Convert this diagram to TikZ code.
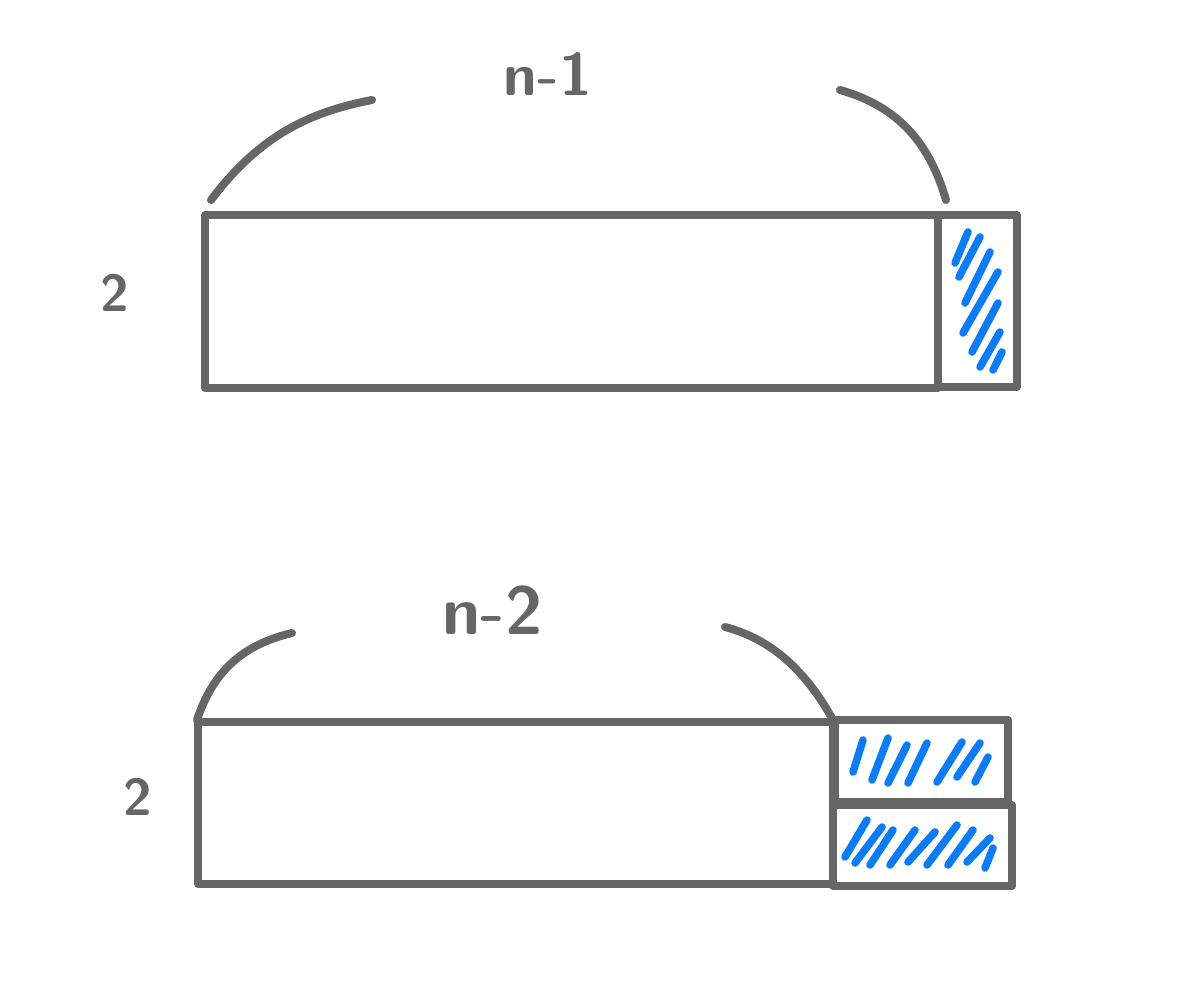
\documentclass[tikz,border=0pt]{standalone}
\usepackage{xcolor}
\usepackage{tikz}
\usetikzlibrary{calc}
\definecolor{inkc}{HTML}{666666}
\definecolor{hatchc}{HTML}{0B7CF6}
\tikzset{
  pen/.style={draw=inkc,line width=4pt,line cap=round,line join=round},
  hatch/.style={draw=hatchc,line width=3.8pt,line cap=round},
  lbl/.style={text=inkc,font=\sffamily\bfseries\fontsize{30}{30}\selectfont,inner sep=0pt}
}

\begin{document}
\begin{tikzpicture}[x=0.5pt,y=-0.5pt]
\useasboundingbox (0,0) rectangle (1182,1000);
% first strip: length n-1
\draw[pen] (205,215) rectangle (938,388);
\draw[pen] (938,215) rectangle (1017,387);
\draw[pen] (211,200) .. controls (260,135) and (310,112) .. (372,100);
\draw[pen] (840,90) .. controls (900,107) and (930,145) .. (946,200);
\node[lbl] (len1) at (548,74) {n-1};
\node[lbl,font=\sffamily\bfseries\fontsize{26}{26}\selectfont] (wid1) at (115,293) {2};
\foreach \a/\b/\c/\d in {955/263/968/232, 959/277/980/237, 965/303/990/252,
  963/333/998/272, 972/352/998/303, 980/367/1000/332, 993/370/1002/352}
  \draw[hatch] (\a,\b) -- (\c,\d);
% second strip: length n-2
\draw[pen] (198,722) rectangle (833,884);
\draw[pen] (835,720) rectangle (1008,802);
\draw[pen] (833,805) rectangle (1012,886);
\draw[pen] (197,720) .. controls (215,665) and (250,643) .. (292,633);
\draw[pen] (725,627) .. controls (775,640) and (808,675) .. (833,720);
\node[lbl,font=\sffamily\bfseries\fontsize{34}{34}\selectfont] (len2) at (493,610) {n-2};
\node[lbl,font=\sffamily\bfseries\fontsize{26}{26}\selectfont] (wid2) at (138,797) {2};
\foreach \a/\b/\c/\d in {853/772/863/740, 872/780/888/738, 888/783/907/745,
  908/783/927/743, 937/782/962/742, 957/777/980/743, 975/782/988/757}
  \draw[hatch] (\a,\b) -- (\c,\d);
\foreach \a/\b/\c/\d in {845/857/867/820, 855/863/882/827, 870/865/893/830,
  890/865/915/830, 908/862/935/832, 927/865/957/825, 948/865/973/830,
  967/862/990/838, 985/868/993/848}
  \draw[hatch] (\a,\b) -- (\c,\d);
\end{tikzpicture}
\end{document}
